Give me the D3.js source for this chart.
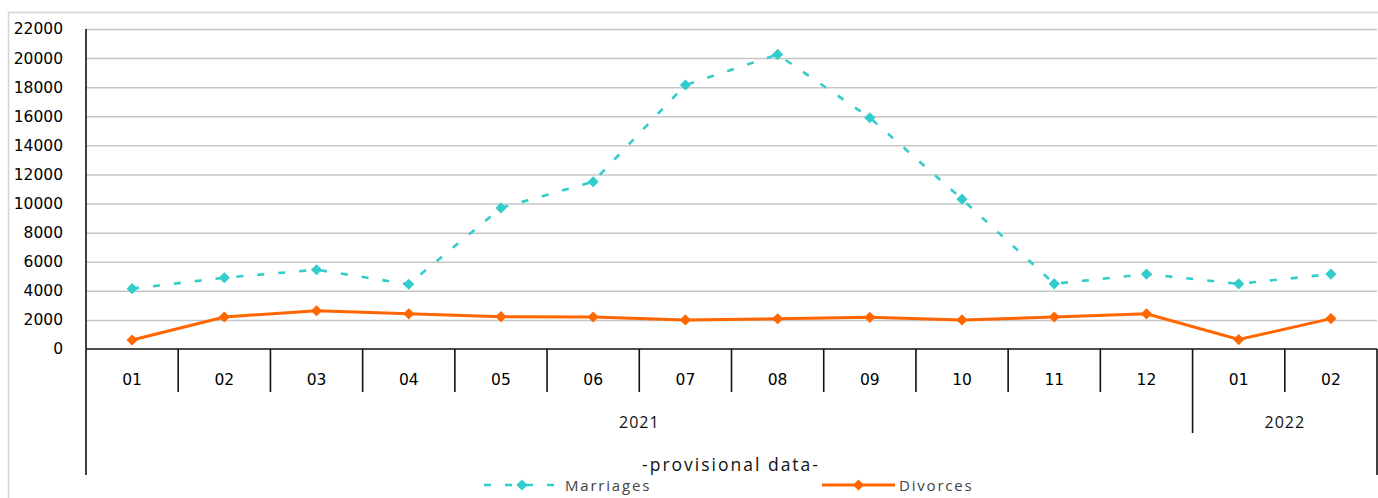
<!DOCTYPE html>
<html><head><meta charset="utf-8">
<script src="https://cdn.jsdelivr.net/npm/d3@7"></script>
<style>
html,body{margin:0;padding:0;background:#fff;}
svg{display:block;}
</style></head>
<body>
<svg id="c" width="1378" height="498"></svg>
<script>
const months = ["01","02","03","04","05","06","07","08","09","10","11","12","01","02"];
const years = [{label:"2021", from:0, to:11},{label:"2022", from:12, to:13}];
const marriages = [4150,4900,5450,4450,9700,11500,18150,20250,15900,10300,4480,5150,4480,5150];
const divorces  = [620,2200,2630,2420,2220,2200,2000,2080,2180,2000,2200,2420,650,2090];
const yTicks = [0,2000,4000,6000,8000,10000,12000,14000,16000,18000,20000,22000];
const seriesNames = ["Marriages","Divorces"];
const colors = ["#33CCCC","#FF6600"];
const note = "-provisional data-";

const svg = d3.select("#c");
const L = 86, R = 1377, T = 29, B = 349;

// outer border
svg.append("path").attr("d","M8.5,498 V12.5 H1378").attr("fill","none").attr("stroke","#d4d4d4").attr("stroke-width",1.5);

const x = d3.scaleBand().domain(d3.range(months.length)).range([L,R]).paddingInner(0).paddingOuter(0);
const y = d3.scaleLinear().domain([0,22000]).range([B,T]);

// gridlines
const grid = svg.append("g").attr("transform",`translate(${L},0)`)
  .call(d3.axisLeft(y).tickValues(yTicks.filter(v=>v>0)).tickSize(-(R-L)).tickFormat(""));
grid.select(".domain").remove();
grid.selectAll("line").attr("stroke","#c6c6c6").attr("stroke-width",1.5);

// y labels
const yax = svg.append("g").attr("transform",`translate(${L},0)`)
  .call(d3.axisLeft(y).tickValues(yTicks).tickSize(0).tickPadding(23).tickFormat(d=>String(d)));
yax.select(".domain").remove();
yax.selectAll("text").attr("font-family","DejaVu Sans").attr("font-size","15.5px").attr("fill","#000");

// axes lines
svg.append("line").attr("x1",L).attr("x2",L).attr("y1",T).attr("y2",475).attr("stroke","#111").attr("stroke-width",1.6);
svg.append("line").attr("x1",L).attr("x2",R).attr("y1",B).attr("y2",B).attr("stroke","#111").attr("stroke-width",1.6);
svg.append("line").attr("x1",R).attr("x2",R).attr("y1",B).attr("y2",475).attr("stroke","#111").attr("stroke-width",1.6);

// month dividers
const bounds = d3.range(1,months.length);
svg.append("g").selectAll("line").data(bounds).join("line")
  .attr("x1",d=>x(d)).attr("x2",d=>x(d)).attr("y1",B)
  .attr("y2",d=> years.some(g=>g.from===d) ? 433 : 392)
  .attr("stroke","#111").attr("stroke-width",1.6);

// month labels
svg.append("g").selectAll("text").data(months).join("text")
  .attr("x",(d,i)=>x(i)+x.bandwidth()/2).attr("y",385)
  .attr("text-anchor","middle").attr("font-family","DejaVu Sans").attr("font-size","15.5px").attr("fill","#000")
  .text(d=>d);

// year labels
svg.append("g").selectAll("text").data(years).join("text")
  .attr("x",d=>(x(d.from)+x(d.to)+x.bandwidth())/2).attr("y",428)
  .attr("text-anchor","middle").attr("font-family","Open Sans").attr("font-size","16px").attr("letter-spacing","1px").attr("fill","#111")
  .text(d=>d.label);

// note
svg.append("text").attr("x",731).attr("y",471).attr("text-anchor","middle")
  .attr("font-family","Open Sans").attr("font-size","17.5px").attr("letter-spacing","2px").attr("fill","#111").text(note);

const cx = i => x(i)+x.bandwidth()/2;
const line = d3.line().x((d,i)=>cx(i)).y(d=>y(d));
const diamond = d3.symbol().type(d3.symbolDiamond2).size(80);

function drawSeries(vals, color, dashed, w){
  svg.append("path").datum(vals).attr("d",line).attr("fill","none").attr("stroke",color)
    .attr("stroke-width",w).attr("stroke-dasharray",dashed?"7,14":null);
  svg.append("g").selectAll("path").data(vals).join("path")
    .attr("d",diamond).attr("transform",(d,i)=>`translate(${cx(i)},${y(d)})`).attr("fill",color);
}
drawSeries(marriages, colors[0], true, 2.6);
drawSeries(divorces, colors[1], false, 3);

// legend
const leg = [{x1:484,x2:560,tx:565,dash:true},{x1:822,x2:895,tx:899,dash:false}];
leg.forEach((l,i)=>{
  const g = svg.append("g");
  g.append("line").attr("x1",l.x1).attr("x2",l.x2).attr("y1",485).attr("y2",485).attr("stroke",colors[i])
    .attr("stroke-width",i?3:2.6).attr("stroke-dasharray",l.dash?"7,14":null);
  g.append("path").attr("d",diamond).attr("transform",`translate(${(l.x1+l.x2)/2},485)`).attr("fill",colors[i]);
  g.append("text").attr("x",l.tx).attr("y",491).attr("font-family","Open Sans").attr("font-size","15px")
    .attr("letter-spacing","1.8px").attr("fill","#444").text(seriesNames[i]);
});
</script>
</body></html>
